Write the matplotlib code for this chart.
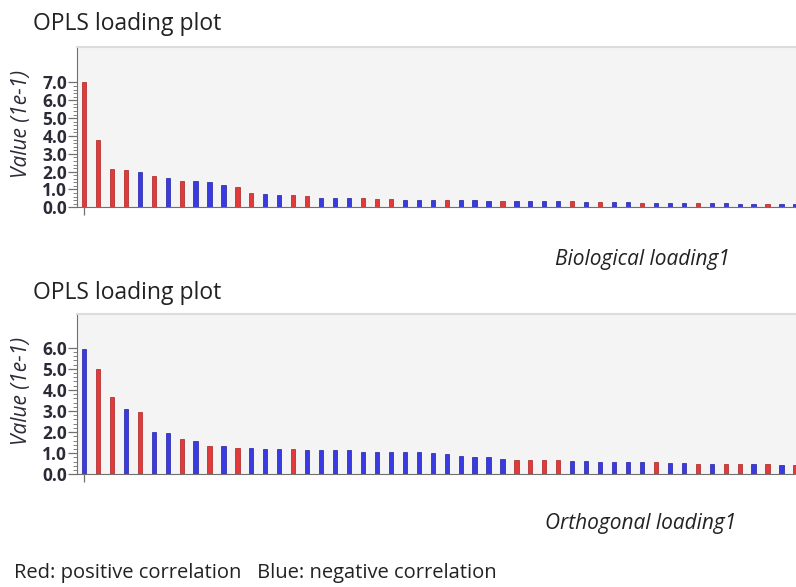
import numpy as np
import matplotlib
matplotlib.use("Agg")
import matplotlib.pyplot as plt
from matplotlib.ticker import FixedLocator

plt.rcParams['font.family'] = ['Open Sans', 'DejaVu Sans']

# loading values (units of 1e-1), sorted by size; R = positive, B = negative correlation
bio_values = [7.00, 3.80, 2.12, 2.07, 1.98, 1.76, 1.66, 1.47, 1.45, 1.40,
              1.27, 1.14, 0.80, 0.75, 0.70, 0.67, 0.64, 0.54, 0.54, 0.53,
              0.53, 0.46, 0.46, 0.43, 0.42, 0.42, 0.42, 0.41, 0.40, 0.38,
              0.38, 0.36, 0.36, 0.36, 0.34, 0.34, 0.30, 0.30, 0.28, 0.28,
              0.26, 0.26, 0.26, 0.24, 0.24, 0.23, 0.23, 0.21, 0.21, 0.21,
              0.19, 0.19]
bio_corr = list("RRRRBRBRBBBRRBBRRBBBRRRBBBRBBBRBBBBRBRBBRBBBRBBBBRBB")

orth_values = [5.92, 4.99, 3.68, 3.10, 2.94, 1.99, 1.94, 1.67, 1.58, 1.34,
               1.33, 1.26, 1.26, 1.22, 1.22, 1.18, 1.17, 1.15, 1.15, 1.14,
               1.07, 1.07, 1.07, 1.04, 1.04, 1.01, 0.96, 0.88, 0.81, 0.81,
               0.71, 0.68, 0.68, 0.66, 0.66, 0.62, 0.62, 0.60, 0.60, 0.58,
               0.57, 0.57, 0.54, 0.54, 0.51, 0.51, 0.47, 0.47, 0.47, 0.47,
               0.43, 0.43]
orth_corr = list("BRRBRBBRBRBRBBBR" + "B" * 15 + "RRRR" + "BBBBBB" + "RBBRBRRBRBR")

colors = {'R': '#e23a3a', 'B': '#3a3ae2'}
edges = {'R': '#a82020', 'B': '#2020a0'}
text_col = '#2d2a38'


def loading_panel(fig, rect, values, corr, ymax, top_tick):
    ax = fig.add_axes(rect)
    ax.set_facecolor('#f4f4f4')
    x = np.arange(len(values))
    ax.bar(x, values, width=0.3, color=[colors[c] for c in corr],
           edgecolor=[edges[c] for c in corr], linewidth=0.5)
    ax.set_xlim(-0.5, 51.04)
    ax.set_ylim(0, ymax)
    yticks = np.arange(0, top_tick + 1)
    ax.set_yticks(yticks)
    ax.set_yticklabels([f"{t:.1f}" for t in yticks])
    minor = [v for v in np.arange(0, top_tick + 0.01, 0.2) if abs(v - round(v)) > 0.01]
    ax.yaxis.set_minor_locator(FixedLocator(minor))
    ax.set_xticks([0])
    ax.set_xticklabels([])
    ax.tick_params(axis='y', which='major', length=6.5, width=0.9, color='#707070',
                   labelsize=12.5, labelcolor=text_col, pad=0.5)
    ax.tick_params(axis='y', which='minor', length=3, width=0.7, color='#808080')
    ax.tick_params(axis='x', length=6, width=0.9, color='#707070')
    for lab in ax.get_yticklabels():
        lab.set_fontweight('bold')
    ax.spines['left'].set_color('#707070')
    ax.spines['bottom'].set_color('#707070')
    ax.spines['top'].set_color('#dcdcdc')
    ax.spines['top'].set_linewidth(1.5)
    ax.spines['right'].set_visible(False)
    ax.set_ylabel('Value (1e-1)', fontsize=15, style='italic', color=text_col)
    ax.yaxis.set_label_coords(-0.063, 0.52)
    return ax


fig = plt.figure(figsize=(7.96, 5.87), dpi=100)

loading_panel(fig, [0.0967, 0.6468, 0.9033, 0.2736], bio_values, bio_corr, 9.0, 7)
loading_panel(fig, [0.0967, 0.1920, 0.9033, 0.2731], orth_values, orth_corr, 7.6, 6)

fig.text(33 / 796, 1 - 24 / 587, 'OPLS loading plot', fontsize=16.5, color='#222222',
         va='center', ha='left')
fig.text(33 / 796, 1 - 293 / 587, 'OPLS loading plot', fontsize=16.5, color='#222222',
         va='center', ha='left')
fig.text(555 / 796, 1 - 259 / 587, 'Biological loading1', fontsize=15, style='italic',
         color='#222222', va='center', ha='left')
fig.text(545 / 796, 1 - 524 / 587, 'Orthogonal loading1', fontsize=15, style='italic',
         color='#222222', va='center', ha='left')
fig.text(14 / 796, 1 - 573 / 587, 'Red: positive correlation   Blue: negative correlation',
         fontsize=14.5, color='#222222', va='center', ha='left')

fig.savefig('out.png', dpi=100)
